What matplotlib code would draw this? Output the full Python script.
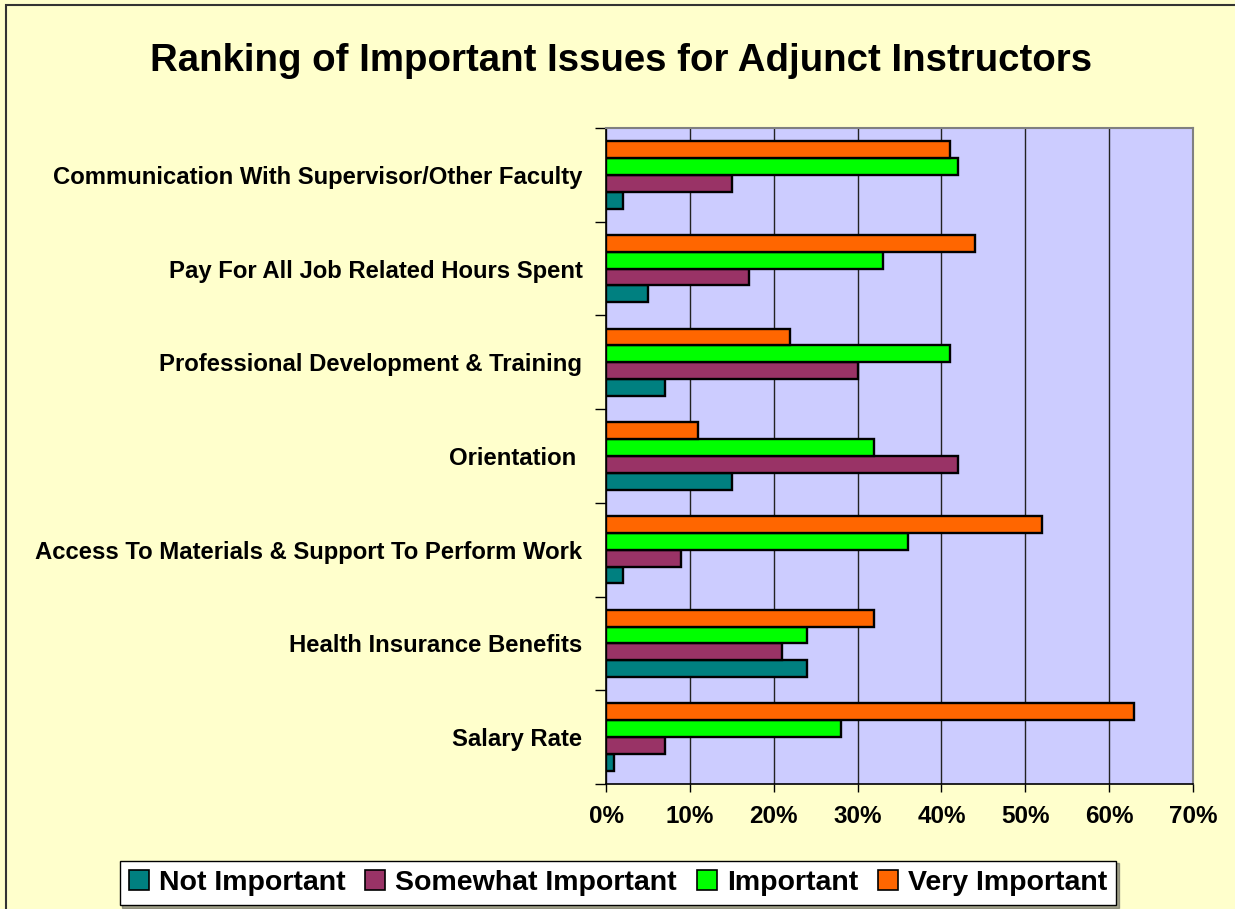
import matplotlib
matplotlib.use("Agg")
import matplotlib.pyplot as plt
import numpy as np
from matplotlib.patches import Rectangle, Patch

categories = [
    "Communication With Supervisor/Other Faculty",
    "Pay For All Job Related Hours Spent",
    "Professional Development & Training",
    "Orientation ",
    "Access To Materials & Support To Perform Work",
    "Health Insurance Benefits",
    "Salary Rate",
]
series_names = ["Not Important", "Somewhat Important", "Important", "Very Important"]
not_important = [2, 5, 7, 15, 2, 24, 1]
somewhat_important = [15, 17, 30, 42, 9, 21, 7]
important = [42, 33, 41, 32, 36, 24, 28]
very_important = [41, 44, 22, 11, 52, 32, 63]
colors = ["#008080", "#993366", "#00FF00", "#FF6600"]
xticks = [0, 10, 20, 30, 40, 50, 60, 70]
xtick_labels = ["0%", "10%", "20%", "30%", "40%", "50%", "60%", "70%"]

plt.rcParams['font.family'] = ['Liberation Sans', 'DejaVu Sans']

W, H = 1235, 909
fig = plt.figure(figsize=(W / 100, H / 100), dpi=100)
fig.patch.set_facecolor("#FFFFCC")

# outer chart border
fig.patches.append(Rectangle((6 / W, -0.05), 1.2, 1 - 5 / H + 0.05, transform=fig.transFigure,
                             fill=False, edgecolor="#333333", linewidth=1.5, zorder=0))

left, right, top, bottom = 606, 1193, 128, 784
ax = fig.add_axes([left / W, 1 - bottom / H, (right - left) / W, (bottom - top) / H])
ax.set_facecolor("#CCCCFF")

series = [not_important, somewhat_important, important, very_important]
n = len(categories)
ypos = np.arange(n)
bh = 0.18
# order from top within group: very, important, somewhat, not
offsets = [1.5 * bh, 0.5 * bh, -0.5 * bh, -1.5 * bh]
for s, vals, col, off in zip(series_names, series, colors, offsets):
    ax.barh(ypos + off, vals, height=bh, color=col, edgecolor="black", linewidth=1.7,
            label=s, zorder=3)

ax.set_xlim(0, 70)
ax.set_ylim(n - 0.5, -0.5)
ax.set_xticks(xticks)
ax.set_xticklabels(xtick_labels, fontsize=17.5, fontweight="bold")
ax.xaxis.grid(True, color="#222222", linewidth=1.0, zorder=1)
ax.set_axisbelow(True)

ax.set_yticks(np.arange(-0.5, n, 1.0))
ax.set_yticklabels([])
ax.set_yticks(ypos, minor=True)
ax.set_yticklabels(categories, minor=True, fontsize=17.2, fontweight="bold")
ax.tick_params(axis="y", which="minor", length=0, pad=17)
ax.tick_params(axis="y", which="major", length=8, width=1, color="black", direction="out")
ax.tick_params(axis="x", length=6, width=1, direction="out", pad=9)

for sp in ["top", "right"]:
    ax.spines[sp].set_color("#808080")
    ax.spines[sp].set_linewidth(1.5)
for sp in ["left", "bottom"]:
    ax.spines[sp].set_color("black")
    ax.spines[sp].set_linewidth(1.2)

fig.text(621 / W, 1 - 61 / H, "Ranking of Important Issues for Adjunct Instructors",
         ha="center", va="center", fontsize=27.6, fontweight="bold")

handles = [Patch(facecolor=c, edgecolor="black", linewidth=1.2) for c in colors]
leg = fig.legend(handles, series_names, loc="center", ncol=4,
                 bbox_to_anchor=(618 / W, 1 - 883 / H),
                 prop={"size": 20.5, "weight": "bold"},
                 frameon=True, fancybox=False, shadow=True, edgecolor="black",
                 handlelength=0.7, handleheight=0.7, handletextpad=0.35,
                 columnspacing=0.7, borderpad=0.33)
leg.get_frame().set_facecolor("white")
leg.get_frame().set_linewidth(1.0)

fig.savefig("out.png", dpi=100, facecolor=fig.get_facecolor())
